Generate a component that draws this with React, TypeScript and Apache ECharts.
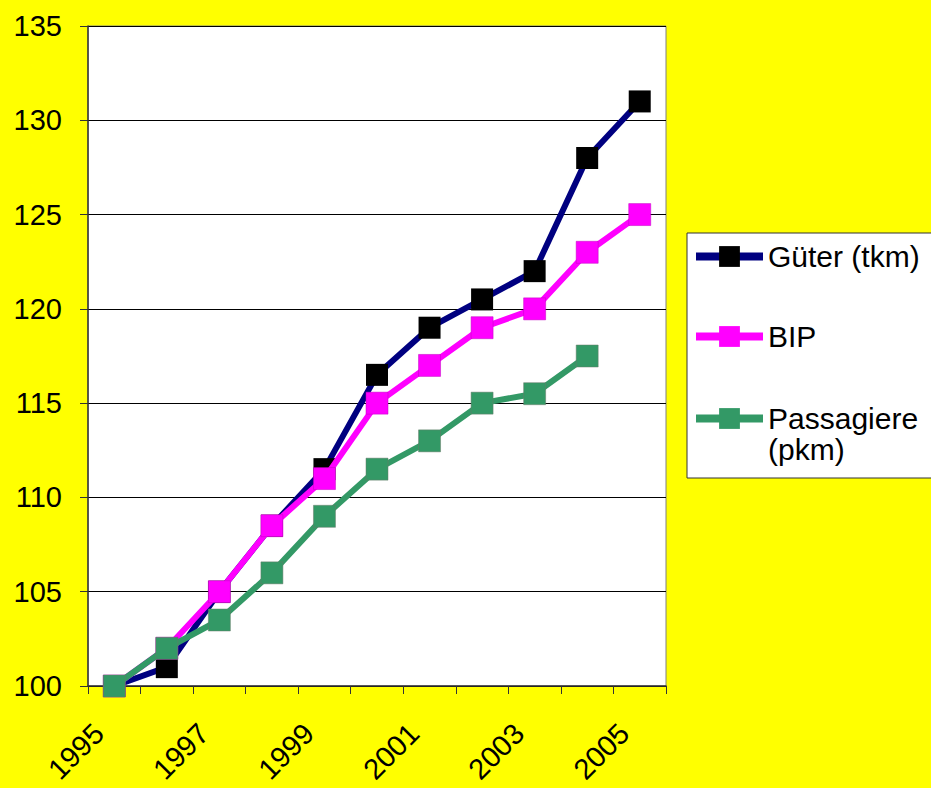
import React, { useEffect, useRef } from "react";
import * as echarts from "echarts";

const years = ["1995", "1996", "1997", "1998", "1999", "2000", "2001", "2002", "2003", "2004", "2005"];
const gueter = [100, 101, 105, 108.5, 111.5, 116.5, 119, 120.5, 122, 128, 131];
const bip = [100, 102, 105, 108.5, 111, 115, 117, 119, 120, 123, 125];
const passagiere = [100, 102, 103.5, 106, 109, 111.5, 113, 115, 115.5, 117.5, null];
const seriesNames = ["Güter (tkm)", "BIP", "Passagiere\n(pkm)"];

const FONT = "'Liberation Sans', Arial, sans-serif";

export default function App() {
  const ref = useRef<HTMLDivElement>(null);
  useEffect(() => {
    if (!ref.current) return;
    const chart = echarts.init(ref.current, null, { renderer: "svg" });
    const legendBase = {
      orient: "vertical",
      left: 692,
      padding: 0,
      itemWidth: 67,
      itemHeight: 26,
      lineStyle: { width: 8 },
      itemStyle: { borderWidth: 0 },
      textStyle: { fontFamily: FONT, fontSize: 30, color: "#000", lineHeight: 31 },
    };
    chart.setOption({
      animation: false,
      backgroundColor: "#FFFF00",
      textStyle: { fontFamily: FONT },
      graphic: [
        {
          type: "rect",
          shape: { x: 687, y: 233, width: 260, height: 245 },
          style: { fill: "#fff", stroke: "#333", lineWidth: 1 },
          z: -1,
        },
      ],
      legend: [
        { ...legendBase, top: 241, data: [seriesNames[0]] },
        { ...legendBase, top: 321, data: [seriesNames[1]] },
        {
          ...legendBase,
          top: 372,
          data: [seriesNames[2]],
          formatter: (name: string) => "\n" + name,
        },
      ],
      grid: {
        left: 88,
        top: 26,
        right: 265,
        bottom: 102,
        show: true,
        backgroundColor: "#fff",
        borderColor: "#808080",
        borderWidth: 1,
      },
      xAxis: {
        type: "category",
        data: years,
        boundaryGap: true,
        axisLine: { lineStyle: { color: "#333", width: 1.5 } },
        axisTick: { show: true, length: 8, interval: 0, lineStyle: { color: "#333" } },
        axisLabel: {
          interval: 1,
          rotate: 45,
          margin: 27,
          padding: [0, 22, 0, 0],
          fontSize: 29,
          color: "#000",
          fontFamily: FONT,
        },
      },
      yAxis: {
        type: "value",
        min: 100,
        max: 135,
        interval: 5,
        axisLine: { show: true, lineStyle: { color: "#333", width: 1.5 } },
        axisTick: { show: true, length: 8, lineStyle: { color: "#333" } },
        axisLabel: { fontSize: 29, color: "#000", margin: 26, fontFamily: FONT },
        splitLine: { show: true, lineStyle: { color: "#000", width: 1 } },
      },
      series: [
        {
          name: seriesNames[0],
          type: "line",
          data: gueter,
          symbol: "rect",
          symbolSize: 22,
          lineStyle: { color: "#000080", width: 6 },
          itemStyle: { color: "#000000", borderWidth: 0 },
          z: 2,
        },
        {
          name: seriesNames[1],
          type: "line",
          data: bip,
          symbol: "rect",
          symbolSize: 22,
          lineStyle: { color: "#FF00FF", width: 6 },
          itemStyle: { color: "#FF00FF", borderColor: "#c000c0", borderWidth: 0.5 },
          z: 3,
        },
        {
          name: seriesNames[2],
          type: "line",
          data: passagiere,
          symbol: "rect",
          symbolSize: 22,
          lineStyle: { color: "#339966", width: 6 },
          itemStyle: { color: "#339966", borderColor: "#6a7a6a", borderWidth: 0.5 },
          z: 4,
        },
      ],
    });
    return () => chart.dispose();
  }, []);
  return (
    <div
      ref={ref}
      style={{ position: "fixed", left: 0, top: 0, width: 931, height: 788 }}
    />
  );
}
